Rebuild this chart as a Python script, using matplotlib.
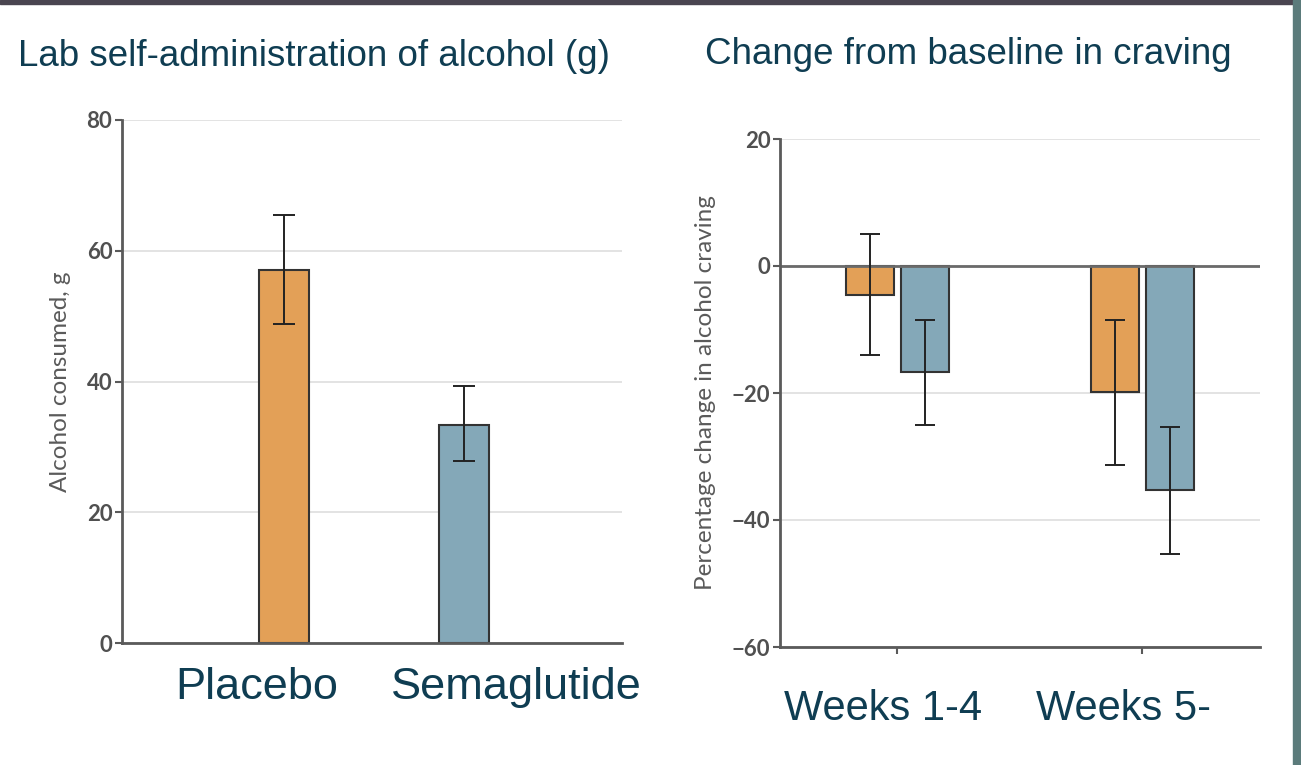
import numpy as np
import matplotlib
matplotlib.use('Agg')
import matplotlib.pyplot as plt
from matplotlib.patches import Rectangle

#%% Datos
grupos_lab = ['Placebo', 'Semaglutide']
alcohol_g = [57.0, 33.3]
alcohol_lo = [48.8, 27.8]
alcohol_hi = [65.5, 39.3]

semanas = ['Weeks 1-4', 'Weeks 5-']
placebo_craving = [-4.6, -19.9]
placebo_lo = [-14.0, -31.3]
placebo_hi = [5.0, -8.5]
sema_craving = [-16.7, -35.3]
sema_lo = [-25.1, -45.4]
sema_hi = [-8.5, -25.4]

naranja = '#e3a057'
azul = '#84a8b8'
borde = '#333333'
titulo_col = '#0f3d52'
gris = '#505050'

W, H = 1301, 765
fig = plt.figure(figsize=(W/100, H/100), dpi=100)

def px_axes(x0, y_top, x1, y_bot):
    return fig.add_axes([x0/W, (H - y_bot)/H, (x1 - x0)/W, (y_bot - y_top)/H])

def estilo(ax):
    for s in ['top', 'right']:
        ax.spines[s].set_visible(False)
    ax.spines['left'].set_color('#5a5a5a')
    ax.spines['left'].set_linewidth(2)
    ax.spines['bottom'].set_color('#5a5a5a')
    ax.spines['bottom'].set_linewidth(2)
    ax.tick_params(axis='y', colors='#5a5a5a', labelcolor=gris, labelsize=16,
                   length=5, width=1.5, pad=2)
    for t in ax.get_yticklabels():
        t.set_family('Lato')
        t.set_fontweight('bold')
    ax.set_axisbelow(True)
    ax.yaxis.grid(True, color='#e0e0e0', linewidth=1.3)

#%% Panel izquierdo
ax1 = px_axes(122, 120, 622, 643)
x = np.arange(len(grupos_lab))
err1 = [np.array(alcohol_g) - np.array(alcohol_lo), np.array(alcohol_hi) - np.array(alcohol_g)]
ax1.bar(x, alcohol_g, width=0.275, color=[naranja, azul], edgecolor=borde, linewidth=1.5)
ax1.errorbar(x, alcohol_g, yerr=err1, fmt='none', ecolor='#222222', elinewidth=1.4,
             capsize=8, capthick=1.4)
ax1.set_xlim(-0.9, 1.878)
ax1.set_ylim(0, 80)
ax1.set_yticks([0, 20, 40, 60, 80])
ax1.set_xticks([])
estilo(ax1)
ax1.set_ylabel('Alcohol consumed, g', fontsize=17.5, color='#5a5a5a', family='Lato')
ax1.yaxis.set_label_coords(-0.102, 0.5)

#%% Panel derecho
ax2 = px_axes(780, 139, 1260, 647)
x2 = np.arange(len(semanas))
d = 0.112
errp = [np.array(placebo_craving) - np.array(placebo_lo), np.array(placebo_hi) - np.array(placebo_craving)]
errs = [np.array(sema_craving) - np.array(sema_lo), np.array(sema_hi) - np.array(sema_craving)]
ax2.bar(x2 - d, placebo_craving, width=0.196, color=naranja, edgecolor=borde, linewidth=1.5)
ax2.bar(x2 + d, sema_craving, width=0.196, color=azul, edgecolor=borde, linewidth=1.5)
ax2.errorbar(x2 - d, placebo_craving, yerr=errp, fmt='none', ecolor='#222222',
             elinewidth=1.4, capsize=7.5, capthick=1.4)
ax2.errorbar(x2 + d, sema_craving, yerr=errs, fmt='none', ecolor='#222222',
             elinewidth=1.4, capsize=7.5, capthick=1.4)
ax2.axhline(0, color='#6a6a6a', linewidth=2, zorder=1.5)
ax2.set_xlim(-0.478, 1.48)
ax2.set_ylim(-60, 20)
ax2.set_yticks([-60, -40, -20, 0, 20])
ax2.set_yticklabels(['\u221260', '\u221240', '\u221220', '0', '20'])
ax2.set_xticks(x2)
ax2.set_xticklabels([])
estilo(ax2)
ax2.tick_params(axis='x', colors='#5a5a5a', length=5, width=1.5)
ax2.set_ylabel('Percentage change in alcohol craving', fontsize=17.5, color='#5a5a5a',
               family='Lato')
ax2.yaxis.set_label_coords(-0.133, 0.5)

#%% Textos de la diapositiva
fig.text(18/W, 1 - 66/H, 'Lab self-administration of alcohol (g)', fontsize=26.5,
         color=titulo_col, family='Liberation Sans', va='baseline', ha='left')
fig.text(705/W, 1 - 64/H, 'Change from baseline in craving', fontsize=26.5,
         color=titulo_col, family='Liberation Sans', va='baseline', ha='left')
for xc, lab in zip([257, 516], grupos_lab):
    fig.text(xc/W, 1 - 699/H, lab, fontsize=32.5, color=titulo_col,
             family='Liberation Sans', va='baseline', ha='center')
for xc, lab in zip([883, 1123], semanas):
    fig.text(xc/W, 1 - 720/H, lab, fontsize=30, color=titulo_col,
             family='Liberation Sans', va='baseline', ha='center')

# bordes oscuros de la diapositiva
fig.patches.append(Rectangle((0, 1 - 4/H), 1, 4/H, transform=fig.transFigure,
                             color='#4a4550', zorder=10))
fig.patches.append(Rectangle((1293/W, 0), 8/W, 1, transform=fig.transFigure,
                             color='#5b7b7b', zorder=10))

fig.savefig('out.png', dpi=100)
